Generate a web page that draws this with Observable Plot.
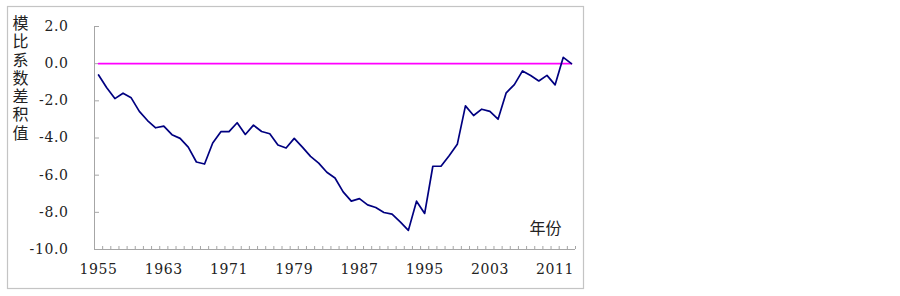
<!DOCTYPE html>
<html>
<head>
<meta charset="utf-8">
<script src="https://cdn.jsdelivr.net/npm/d3@7"></script>
<script src="https://cdn.jsdelivr.net/npm/@observablehq/plot@0.6"></script>
<style>
  html, body { margin: 0; padding: 0; background: #fff; }
  #chart svg { display: block; }
  #chart svg g[aria-label$="tick label"] text {
    font-family: "DejaVu Serif", "Liberation Serif", serif !important;
    font-size: 14px !important;
    letter-spacing: 0.6px;
  }
  #chart svg g.cjk text { font-family: "Noto Sans CJK SC", sans-serif !important; }
</style>
</head>
<body>
<div id="chart"></div>
<script>
const years = [1955,1956,1957,1958,1959,1960,1961,1962,1963,1964,1965,1966,1967,1968,1969,1970,
  1971,1972,1973,1974,1975,1976,1977,1978,1979,1980,1981,1982,1983,1984,1985,1986,1987,1988,
  1989,1990,1991,1992,1993,1994,1995,1996,1997,1998,1999,2000,2001,2002,2003,2004,2005,2006,
  2007,2008,2009,2010,2011,2012,2013];
const values = [-0.61,-1.30,-1.88,-1.59,-1.84,-2.57,-3.06,-3.45,-3.36,-3.82,-4.02,-4.49,-5.29,-5.40,
  -4.27,-3.66,-3.66,-3.18,-3.81,-3.31,-3.65,-3.77,-4.38,-4.54,-4.02,-4.49,-4.99,-5.35,-5.84,-6.15,
  -6.90,-7.40,-7.26,-7.60,-7.74,-8.01,-8.10,-8.51,-8.97,-7.40,-8.06,-5.52,-5.52,-4.95,-4.34,-2.27,
  -2.79,-2.45,-2.57,-2.99,-1.57,-1.13,-0.39,-0.64,-0.93,-0.63,-1.14,0.34,0.00];
const zeroLine = years.map(() => 0);
const xTickLabels = [1955,1963,1971,1979,1987,1995,2003,2011];
const yTicks = [2,0,-2,-4,-6,-8,-10];
const yTitle = "模比系数差积值";
const xTitle = "年份";

const data = years.map((y, i) => ({year: y, v: values[i], z: zeroLine[i]}));
const boundaries = years.map(y => y - 0.5).concat([years[years.length - 1] + 0.5]);

const serif = "DejaVu Serif";
const cjk = "Noto Sans CJK SC";
const axisGray = "#a6a6a6";

const titleMarks = yTitle.split("").map((ch, i) =>
  Plot.text([ch], {frameAnchor: "top-left", text: d => d, dx: -74, dy: -2.7 + i * 18.3,
    textAnchor: "middle", lineAnchor: "middle", fontSize: 16, fontFamily: cjk, fill: "#222",
    className: "cjk"}));

const chart = Plot.plot({
  width: 900,
  height: 296,
  marginLeft: 94,
  marginRight: 325,
  marginTop: 26,
  marginBottom: 47,
  style: {background: "#fff", color: "#222"},
  x: {domain: [years[0] - 0.5, years[years.length - 1] + 0.5]},
  y: {domain: [-10, 2]},
  marks: [
    Plot.frame({stroke: "#c4c4c4", strokeWidth: 1.2, insetLeft: -87, insetTop: -20, insetRight: -8, insetBottom: -39}),
    Plot.ruleX([boundaries[0]], {stroke: axisGray, strokeWidth: 1}),
    Plot.ruleY([-10], {stroke: axisGray, strokeWidth: 1}),
    Plot.tickX(boundaries, {x: d => d, stroke: axisGray, strokeWidth: 1, insetTop: 220}),
    Plot.tickY(yTicks, {y: d => d, stroke: axisGray, strokeWidth: 1, insetRight: 476}),
    Plot.axisY(yTicks, {tickSize: 0, tickPadding: 26, fontSize: 14, fontFamily: serif,
      tickFormat: d => d3.format(".1f")(d).replace("\u2212", "-"), label: null}),
    Plot.axisX(xTickLabels, {tickSize: 0, tickPadding: 15, fontSize: 14, fontFamily: serif,
      tickFormat: d => String(d), label: null}),
    Plot.line(data, {x: "year", y: "z", stroke: "#ff00ff", strokeWidth: 1.6}),
    Plot.line(data, {x: "year", y: "v", stroke: "#000080", strokeWidth: 1.7}),
    ...titleMarks,
    Plot.text([xTitle], {frameAnchor: "bottom-right", text: d => d, dx: -30, dy: -16, textAnchor: "middle",
      fontSize: 16, fontFamily: cjk, fill: "#222", className: "cjk"})
  ]
});
document.getElementById("chart").appendChild(chart);
</script>
</body>
</html>
